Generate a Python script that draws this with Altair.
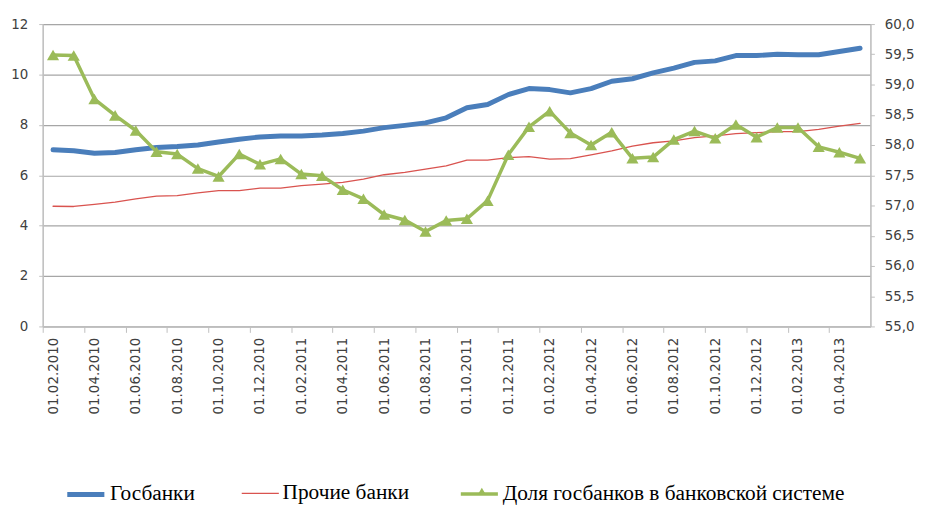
import altair as alt
import pandas as pd

dates = [
    "01.02.2010", "01.03.2010", "01.04.2010", "01.05.2010", "01.06.2010", "01.07.2010",
    "01.08.2010", "01.09.2010", "01.10.2010", "01.11.2010", "01.12.2010",
    "01.01.2011", "01.02.2011", "01.03.2011", "01.04.2011", "01.05.2011", "01.06.2011",
    "01.07.2011", "01.08.2011", "01.09.2011", "01.10.2011", "01.11.2011", "01.12.2011",
    "01.01.2012", "01.02.2012", "01.03.2012", "01.04.2012", "01.05.2012", "01.06.2012",
    "01.07.2012", "01.08.2012", "01.09.2012", "01.10.2012", "01.11.2012", "01.12.2012",
    "01.01.2013", "01.02.2013", "01.03.2013", "01.04.2013", "01.05.2013",
]

gos = [
    7.01, 6.97, 6.87, 6.90, 7.01, 7.10, 7.14, 7.20, 7.32, 7.43,
    7.52, 7.56, 7.56, 7.60, 7.66, 7.75, 7.89, 7.98, 8.08, 8.28,
    8.68, 8.81, 9.20, 9.44, 9.40, 9.27, 9.44, 9.73, 9.83, 10.06,
    10.25, 10.48, 10.54, 10.75, 10.75, 10.80, 10.78, 10.78, 10.91, 11.04,
]

other = [
    4.77, 4.76, 4.84, 4.93, 5.06, 5.17, 5.19, 5.30, 5.39, 5.39,
    5.49, 5.49, 5.59, 5.65, 5.72, 5.85, 6.02, 6.11, 6.24, 6.37,
    6.60, 6.60, 6.70, 6.74, 6.64, 6.66, 6.81, 6.97, 7.16, 7.29,
    7.36, 7.49, 7.56, 7.65, 7.69, 7.73, 7.73, 7.82, 7.95, 8.06,
]

share = [
    59.49, 59.48, 58.76, 58.49, 58.24, 57.89, 57.85, 57.61, 57.48, 57.85,
    57.68, 57.77, 57.52, 57.49, 57.26, 57.11, 56.85, 56.76, 56.57, 56.75,
    56.78, 57.08, 57.84, 58.30, 58.56, 58.20, 58.00, 58.21, 57.78, 57.80,
    58.09, 58.23, 58.11, 58.34, 58.13, 58.29, 58.29, 57.97, 57.88, 57.78,
]

names = ["Госбанки", "Прочие банки", "Доля госбанков в банковской системе"]
colors = ["#4a7ebb", "#d9534f", "#9bbb59"]
widths = [5, 1.3, 3.5]

left_ticks = [0, 2, 4, 6, 8, 10, 12]
right_ticks = [55, 55.5, 56, 56.5, 57, 57.5, 58, 58.5, 59, 59.5, 60]

df_left = pd.DataFrame({
    "date": dates + dates,
    "value": gos + other,
    "series": [names[0]] * len(dates) + [names[1]] * len(dates),
})
df_right = pd.DataFrame({
    "date": dates,
    "value": share,
    "series": [names[2]] * len(dates),
    "marker": ["tri"] * len(dates),
})

W, H = 835, 305
step = W / len(dates)
GRID = "#a6a6a6"
AX = "#bfbfbf"
LBL = "#404040"

x_enc = alt.X(
    "date:O",
    sort=dates,
    scale=alt.Scale(type="point", domain=dates, padding=0.5),
    axis=alt.Axis(
        values=dates[::2], labelAngle=270, tickOffset=-step / 2, labelOffset=step / 2,
        title=None, labelFont="DejaVu Sans", labelFontSize=13.5, labelColor=LBL,
        domainColor=AX, domainWidth=1.5, tickColor=AX, tickSize=6, labelPadding=5,
        grid=False,
    ),
)

main_legend = alt.Legend(
    orient="none", legendX=22, legendY=453, direction="horizontal", title=None,
    symbolType="stroke", symbolSize=1400, labelFont="Liberation Serif",
    labelFontSize=21.5, labelColor="#000000", columnPadding=44, labelOffset=3,
    labelLimit=0,
)

color_enc = alt.Color("series:N", scale=alt.Scale(domain=names, range=colors), legend=main_legend)
sw_enc = alt.StrokeWidth("series:N", scale=alt.Scale(type="ordinal", domain=names, range=widths),
                         legend=main_legend)

left = alt.Chart(df_left).mark_line(strokeCap="round", strokeJoin="round").encode(
    x=x_enc,
    y=alt.Y("value:Q", scale=alt.Scale(domain=[0, 12]),
            axis=alt.Axis(values=left_ticks, title=None, grid=True, gridColor=GRID, gridWidth=1.2,
                          domainColor=AX, domainWidth=1.5, tickColor=AX, tickSize=4,
                          labelFont="DejaVu Sans", labelFontSize=13.5, labelColor=LBL,
                          labelPadding=11)),
    color=color_enc,
    strokeWidth=sw_enc,
    order=alt.Order("series:N"),
)

y_right = alt.Y("value:Q", scale=alt.Scale(domain=[55, 60]),
                axis=alt.Axis(orient="right", values=right_ticks, title=None, grid=False,
                              domainColor=AX, domainWidth=1.5, tickColor=AX, tickSize=4,
                              labelFont="DejaVu Sans", labelFontSize=13.5, labelColor=LBL,
                              labelPadding=10,
                              labelExpr="replace(format(datum.value, '.1f'), '.', ',')"))

green_line = alt.Chart(df_right).mark_line(strokeJoin="round").encode(
    x=x_enc, y=y_right, color=color_enc, strokeWidth=sw_enc,
)

green_pts = alt.Chart(df_right).mark_point(filled=True, size=150, opacity=1, color=colors[2]).encode(
    x=x_enc,
    y=y_right,
    shape=alt.Shape("marker:N", scale=alt.Scale(domain=["tri"], range=["triangle-up"]),
                    legend=alt.Legend(orient="none", legendX=438, legendY=466, title=None,
                                      labelExpr="''", symbolFillColor=colors[2],
                                      symbolStrokeColor=colors[2], symbolSize=60,
                                      symbolStrokeWidth=0)),
)

right = alt.layer(green_line, green_pts)

chart = alt.layer(left, right).resolve_scale(y="independent").properties(
    width=W, height=H,
    padding={"left": 35, "top": 14, "right": 47, "bottom": 184},
    autosize=alt.AutoSizeParams(type="none"),
).configure_view(stroke=None).configure(background="white")

chart.save("out.html", embed_options={"renderer": "svg", "actions": False})
